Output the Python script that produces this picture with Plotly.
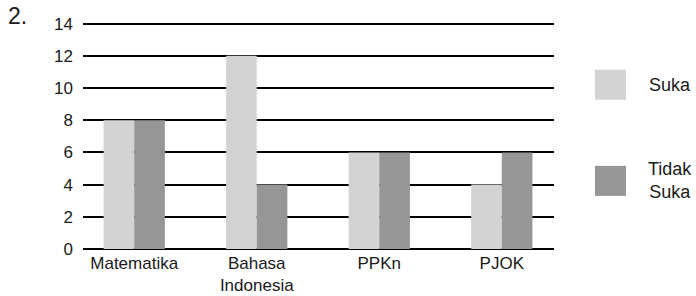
import plotly.graph_objects as go

categories = ["Matematika", "Bahasa<br>Indonesia", "PPKn", "PJOK"]
suka = [8, 12, 6, 4]
tidak_suka = [8, 4, 6, 6]
series_names = ["Suka", "Tidak<br>Suka"]
y_ticks = [0, 2, 4, 6, 8, 10, 12, 14]

LIGHT = "#d3d3d3"
DARK = "#969696"
FONT = "Liberation Sans, Arial, sans-serif"
TXT = "#1a1a1a"

x_idx = list(range(len(categories)))

fig = go.Figure()
fig.add_trace(go.Bar(x=x_idx, y=suka, name="Suka", marker=dict(color=LIGHT, line=dict(width=0))))
fig.add_trace(go.Bar(x=x_idx, y=tidak_suka, name="Tidak Suka", marker=dict(color=DARK, line=dict(width=0))))

W, H = 696, 296
Y_TOP = 14.1
L, R, B = 83, 554, 249
T = B - (B - 24) * Y_TOP / 14

fig.update_layout(
    width=W, height=H,
    margin=dict(l=L, r=W - R, t=T, b=H - B, pad=0, autoexpand=False),
    paper_bgcolor="white", plot_bgcolor="white",
    barmode="group", bargap=0.5, bargroupgap=0,
    showlegend=False,
    font=dict(family=FONT, size=17, color=TXT),
    xaxis=dict(
        tickmode="array", tickvals=x_idx, ticktext=categories,
        range=[-0.418, 3.426], showgrid=False, zeroline=False,
        showline=False, ticks="", ticklabelstandoff=2, automargin=False,
        tickfont=dict(size=17, color=TXT),
    ),
    yaxis=dict(
        tickmode="array", tickvals=y_ticks, range=[0, Y_TOP],
        showgrid=True, gridcolor="black", gridwidth=2,
        zeroline=True, zerolinecolor="black", zerolinewidth=2,
        showline=False, ticks="", ticklabelstandoff=9, automargin=False,
        tickfont=dict(size=17, color=TXT),
    ),
)

def px_x(v):
    return (v - L) / (R - L)

def px_y(v):
    return (B - v) / (B - T)

# "2." label
fig.add_annotation(text="2.", x=px_x(6), y=px_y(16), xref="paper", yref="paper",
                   showarrow=False, xanchor="left", yanchor="middle",
                   font=dict(size=23, color=TXT))

# custom legend
legend_items = [(LIGHT, 70, series_names[0]), (DARK, 166, series_names[1])]
for color, top, label in legend_items:
    fig.add_shape(type="rect", xref="paper", yref="paper",
                  x0=px_x(595), x1=px_x(626), y0=px_y(top + 30), y1=px_y(top),
                  fillcolor=color, line=dict(width=0))
for color, top, label in legend_items:
    fig.add_annotation(text=label, xref="paper", yref="paper",
                       x=px_x(670), y=px_y(top + 15),
                       showarrow=False, xanchor="center", yanchor="middle",
                       align="center", font=dict(size=18, color=TXT))

fig.write_html("out.html", config={"displayModeBar": False},
               post_script="document.body.style.margin='0';")
